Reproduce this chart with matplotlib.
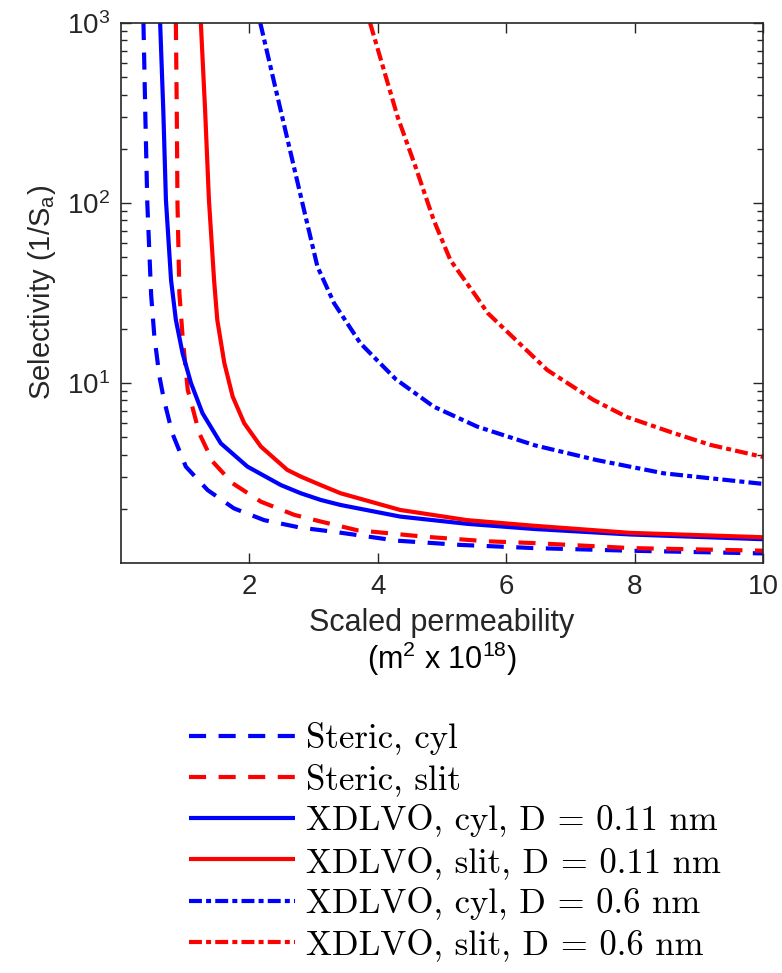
import matplotlib
matplotlib.use("Agg")
import matplotlib.pyplot as plt
from matplotlib.ticker import FixedLocator, LogLocator, NullFormatter, NullLocator

plt.rcParams["font.family"] = ["Liberation Sans", "DejaVu Sans"]
plt.rcParams["mathtext.fontset"] = "custom"
plt.rcParams["mathtext.rm"] = "Liberation Sans"
plt.rcParams["mathtext.it"] = "Liberation Sans:italic"

# values (x: scaled permeability, y: selectivity)
steric_cyl_x = [0.35, 0.38, 0.41, 0.47, 0.52, 0.60, 0.67, 0.80, 1.01, 1.35, 1.76, 2.23, 2.80, 3.32, 4.30, 5.29, 6.43, 7.93, 10.0]
steric_cyl_y = [1000, 300, 100, 30.8, 18.1, 10.8, 8.05, 5.25, 3.43, 2.54, 2.01, 1.73, 1.57, 1.49, 1.33, 1.26, 1.21, 1.17, 1.13]

steric_slit_x = [0.855, 0.87, 0.88, 0.91, 0.96, 1.04, 1.11, 1.22, 1.43, 1.74, 2.18, 2.70, 3.11, 3.68, 4.72, 5.70, 6.43, 7.93, 10.0]
steric_slit_y = [1000, 300, 100, 31.5, 18.1, 9.15, 7.4, 5.25, 3.65, 2.77, 2.19, 1.85, 1.70, 1.52, 1.40, 1.32, 1.29, 1.21, 1.17]

xdlvo_cyl_011_x = [0.61, 0.66, 0.70, 0.78, 0.855, 0.96, 1.09, 1.27, 1.555, 1.97, 2.49, 2.80, 3.11, 3.42, 4.35, 5.39, 6.43, 7.93, 10.0]
xdlvo_cyl_011_y = [1000, 320, 104, 37.3, 22.4, 14.6, 10.0, 6.79, 4.62, 3.43, 2.71, 2.44, 2.24, 2.10, 1.81, 1.65, 1.545, 1.44, 1.355]

xdlvo_slit_011_x = [1.244, 1.31, 1.37, 1.45, 1.50, 1.61, 1.74, 1.92, 2.18, 2.59, 2.80, 3.11, 3.42, 4.35, 5.39, 6.43, 7.93, 10.0]
xdlvo_slit_011_y = [1000, 330, 104, 37.3, 22.4, 12.9, 8.4, 5.97, 4.43, 3.29, 3.02, 2.71, 2.44, 1.97, 1.73, 1.61, 1.47, 1.39]

xdlvo_cyl_06_x = [2.17, 2.45, 2.84, 3.06, 3.32, 3.73, 4.28, 4.87, 5.55, 6.45, 7.41, 8.45, 10.0]
xdlvo_cyl_06_y = [1000, 373, 95, 44.3, 27.7, 16.6, 10.5, 7.39, 5.72, 4.5, 3.73, 3.15, 2.75]

xdlvo_slit_06_x = [3.88, 4.31, 4.59, 4.87, 5.13, 5.55, 5.71, 6.64, 7.36, 7.88, 8.60, 9.18, 10.0]
xdlvo_slit_06_y = [1000, 300, 158, 80.5, 48.2, 29.7, 24.5, 11.8, 8.05, 6.47, 5.28, 4.53, 3.88]

labels = [
    "Steric, cyl",
    "Steric, slit",
    "XDLVO, cyl, D = 0.11 nm",
    "XDLVO, slit, D = 0.11 nm",
    "XDLVO, cyl, D = 0.6 nm",
    "XDLVO, slit, D = 0.6 nm",
]

DASH = (4.1, 3.0)
DASHDOT = (3.1, 1.0, 1.2, 1.0)

fig = plt.figure(figsize=(7.82, 9.73), dpi=100)
ax = fig.add_axes([0.1547, 0.4214, 0.821, 0.555])

lw = 3.0
series = [
    (steric_cyl_x, steric_cyl_y, "blue", DASH),
    (steric_slit_x, steric_slit_y, "red", DASH),
    (xdlvo_cyl_011_x, xdlvo_cyl_011_y, "blue", None),
    (xdlvo_slit_011_x, xdlvo_slit_011_y, "red", None),
    (xdlvo_cyl_06_x, xdlvo_cyl_06_y, "blue", DASHDOT),
    (xdlvo_slit_06_x, xdlvo_slit_06_y, "red", DASHDOT),
]
handles = []
for (xs, ys, color, dashes), label in zip(series, labels):
    (ln,) = ax.plot(xs, ys, color=color, lw=lw, label=label, solid_capstyle="butt")
    if dashes is not None:
        ln.set_dashes(dashes)
        ln.set_dash_capstyle("butt")
    handles.append(ln)

ax.set_yscale("log")
ax.set_xlim(0, 10)
ax.set_ylim(1, 1000)
ax.xaxis.set_major_locator(FixedLocator([2, 4, 6, 8, 10]))
ax.xaxis.set_minor_locator(NullLocator())
ax.yaxis.set_major_locator(FixedLocator([10, 100, 1000]))
ax.yaxis.set_minor_locator(LogLocator(base=10, subs=range(2, 10)))
ax.yaxis.set_minor_formatter(NullFormatter())

axcol = "#262626"
for sp in ax.spines.values():
    sp.set_color(axcol)
    sp.set_linewidth(1.2)
ax.tick_params(which="both", direction="in", top=True, right=True, colors=axcol, width=1.0)
ax.tick_params(which="major", length=7, labelsize=20, pad=8)
ax.tick_params(which="minor", length=4)

ax.set_xlabel("Scaled permeability", fontsize=22, color=axcol, labelpad=6)
ax.set_ylabel("Selectivity (1/S$_\\mathregular{a}$)", fontsize=21, color=axcol, labelpad=6)
fig.text(0.565, 0.323, "(m$^2$ x 10$^{18}$)", fontsize=22, color="black", ha="center", va="center")

leg = fig.legend(
    handles=handles,
    loc="upper left",
    bbox_to_anchor=(0.219, 0.276),
    frameon=False,
    prop={"family": "cmr10", "size": 25},
    handlelength=3.05,
    handletextpad=0.32,
    labelspacing=0.24,
    borderpad=0.0,
)

fig.savefig("out.png", dpi=100)
